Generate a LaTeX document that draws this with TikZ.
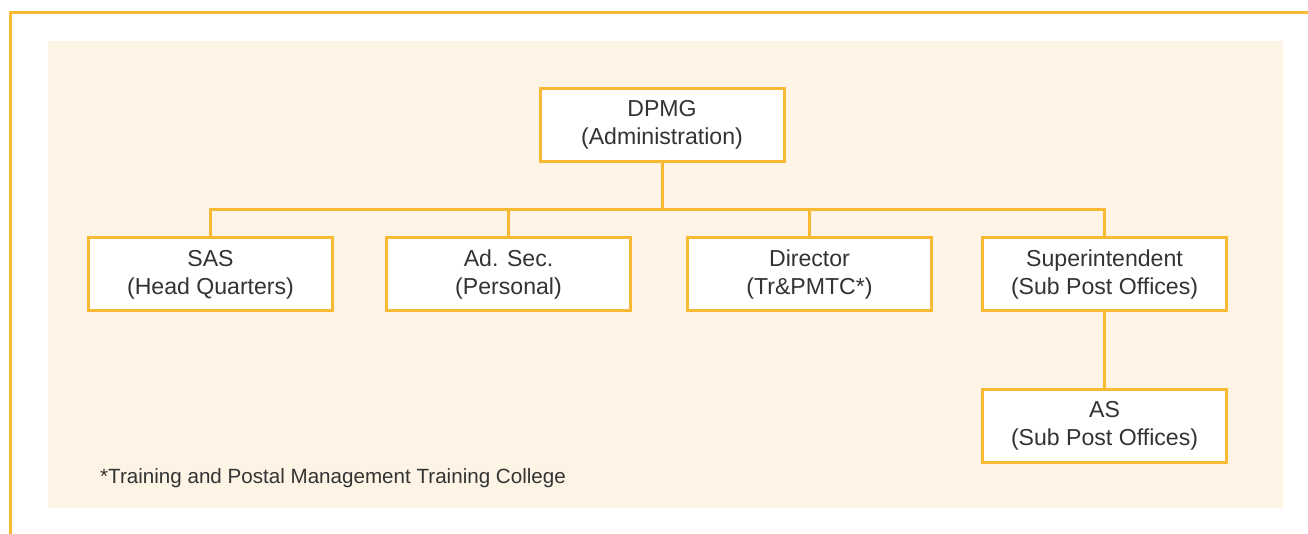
\documentclass[tikz,border=0pt]{standalone}
\usepackage{fontspec}
\setmainfont{Liberation Sans}
\definecolor{lineor}{RGB}{248,185,52}
\definecolor{bgbeige}{RGB}{253,244,229}
\definecolor{txtgray}{RGB}{51,51,51}
\begin{document}
\begin{tikzpicture}[x=1pt,y=-1pt,
  orgbox/.style={draw=lineor,line width=3pt,fill=white,minimum width=244pt,minimum height=73pt,
    align=center,text=txtgray,font=\fontsize{23.1}{28}\selectfont,inner sep=0pt},
  conn/.style={draw=lineor,line width=3pt},
  frameline/.style={draw=lineor,line width=3pt}]
\useasboundingbox (0,0) rectangle (1308,534);
\fill[bgbeige] (48,41) rectangle (1283,508);
\draw[frameline] (10,534) -- (10,12.5) -- (1308,12.5);
\node[orgbox] (dpmg) at (662,125) {DPMG\\(Administration)};
\node[orgbox] (sas) at (210.5,274.5) {SAS\\(Head Quarters)};
\node[orgbox] (adsec) at (508.5,274.5) {Ad. Sec.\\(Personal)};
\node[orgbox] (dir) at (809.5,274.5) {Director\\(Tr\&PMTC*)};
\node[orgbox] (sup) at (1104.5,274.5) {Superintendent\\(Sub Post Offices)};
\node[orgbox] (as) at (1104.5,426) {AS\\(Sub Post Offices)};
\coordinate (bus) at (662,210);
\draw[conn] (dpmg.south) -- (bus);
\draw[conn] (sas.north) |- (bus);
\draw[conn] (sup.north) |- (bus);
\draw[conn] (adsec.north) -- (adsec.north |- bus);
\draw[conn] (dir.north) -- (dir.north |- bus);
\draw[conn] (sup.south) -- (as.north);
\node[anchor=west,text=txtgray,font=\fontsize{20.6}{24}\selectfont,inner sep=0pt] (note) at (100,478) {*Training and Postal Management Training College};
\end{tikzpicture}
\end{document}
